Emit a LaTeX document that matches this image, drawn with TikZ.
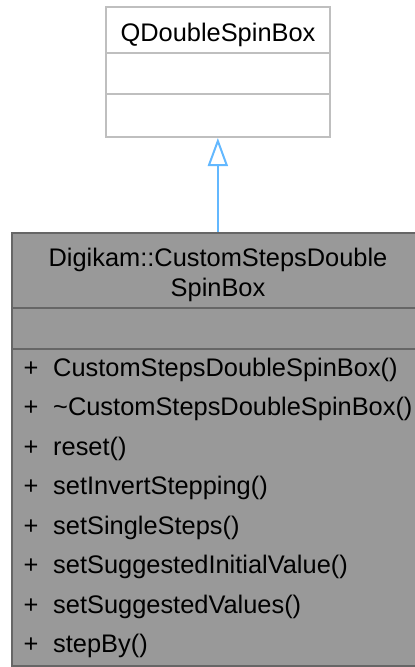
\documentclass[tikz,border=0pt]{standalone}
\usepackage{fontspec}
\setmainfont{Liberation Sans}
\usetikzlibrary{arrows.meta}
\definecolor{topborder}{HTML}{BFBFBF}
\definecolor{botfill}{HTML}{999999}
\definecolor{botborder}{HTML}{666666}
\definecolor{inherit}{HTML}{63B8FF}
\tikzset{
  boxtop/.style={draw=topborder, fill=white, line width=2pt, inner sep=0pt, minimum width=224.3pt, minimum height=129.7pt},
  boxbot/.style={draw=botborder, fill=botfill, line width=2pt, inner sep=0pt, minimum width=412.6pt, minimum height=433pt},
  lbl/.style={inner sep=0pt, anchor=base, font=\fontsize{25.4pt}{29.5pt}\selectfont, text=black},
  mem/.style={inner sep=0pt, anchor=base west, font=\fontsize{25.4pt}{29.5pt}\selectfont, text=black},
  vis/.style={inner sep=0pt, anchor=base west, font=\fontsize{25.4pt}{29.5pt}\selectfont, text=black},
  inh/.style={draw=inherit, line width=2pt, -{Triangle[open, length=28pt, width=20pt, line width=2pt]}}
}
\begin{document}
\begin{tikzpicture}[x=1pt, y=-1pt]
\useasboundingbox (0,0) rectangle (415,667);
\clip (0,0) rectangle (415,667);
% base class
\node[boxtop] (qd) at (217.85,72.15) {};
\draw[topborder, line width=2pt] (105.7,53.3) coordinate (qd1l) -- (330,53.3) coordinate (qd1r);
\draw[topborder, line width=2pt] (105.7,94.3) coordinate (qd2l) -- (330,94.3) coordinate (qd2r);
\node[lbl] (qdname) at (218,41.7) {QDoubleSpinBox};
% derived class
\node[boxbot] (cs) at (218,449.5) {};
\draw[botborder, line width=2pt] (11.7,308.3) coordinate (cs1l) -- (424.3,308.3) coordinate (cs1r);
\draw[botborder, line width=2pt] (11.7,349) coordinate (cs2l) -- (424.3,349) coordinate (cs2r);
\node[lbl] (csname1) at (218,266.7) {Digikam::CustomStepsDouble};
\node[lbl] (csname2) at (218,296.2) {SpinBox};
\foreach \i/\t in {0/CustomStepsDoubleSpinBox(),1/\textasciitilde CustomStepsDoubleSpinBox(),2/reset(),3/setInvertStepping(),4/setSingleSteps(),5/setSuggestedInitialValue(),6/setSuggestedValues(),7/stepBy()}{
  \node[vis] (v\i) at (23.5,376+39.5*\i) {+};
  \node[mem] (m\i) at (53,376+39.5*\i) {\t};
}
% inheritance
\draw[inh] (cs.north -| qd.south) -- (qd.south);
\end{tikzpicture}
\end{document}
